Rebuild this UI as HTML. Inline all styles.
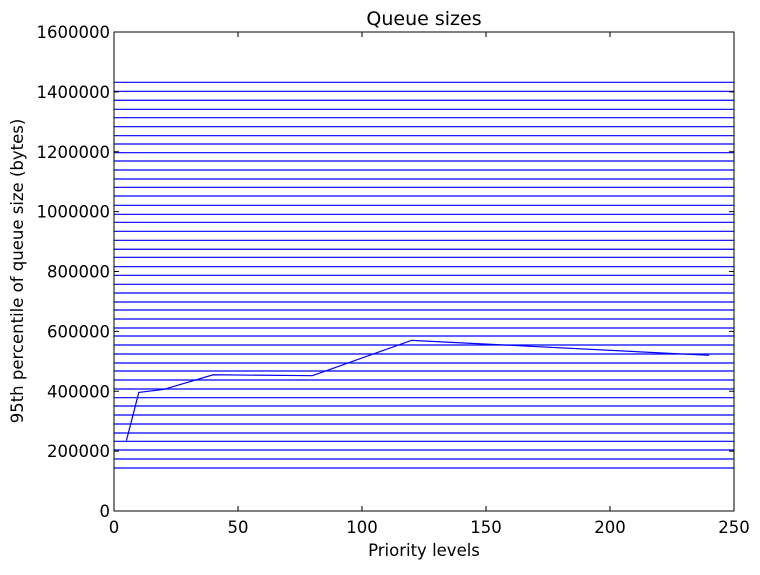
<!DOCTYPE html>
<html><head><meta charset="utf-8"><style>
body{margin:0;background:#fff;}
svg text{font-family:"DejaVu Sans","Liberation Sans",sans-serif;fill:#000;}
</style></head><body>
<svg id="chart" width="760" height="570" xmlns="http://www.w3.org/2000/svg">
<rect width="760" height="570" fill="#fff"/>
<g id="hlines"></g>
<g id="series"></g>
<rect x="114" y="32" width="620" height="479" fill="none" stroke="#000" stroke-width="1"/>
<g id="xticks"></g>
<g id="yticks"></g>
<text x="424" y="25" font-size="19" text-anchor="middle">Queue sizes</text>
<text x="424" y="556" font-size="16.5" text-anchor="middle">Priority levels</text>
<text x="0" y="0" font-size="16.5" text-anchor="middle" transform="translate(23,271) rotate(-90)">95th percentile of queue size (bytes)</text>
</svg>
<script>
const thresholdValues=[143600,173700,203800,232800,260500,290600,320700,350700,378500,407500,437600,467600,494400,524400,554500,584600,611300,641300,671400,698100,728200,757200,787300,816000,847400,874200,904200,934300,964300,991000,1021100,1052200,1081200,1109000,1139000,1169100,1196800,1225900,1253600,1283700,1313700,1341800,1371900,1401900,1432000];
const priorityLevels=[5,10,20,40,80,120,240];
const queueSizes=[235000,396000,406000,455000,452000,570000,520000];
const xTickLabels=[0,50,100,150,200,250];
const yTickLabels=[0,200000,400000,600000,800000,1000000,1200000,1400000,1600000];
const NS="http://www.w3.org/2000/svg";
const X0=114,X1=734,Y0=511,Y1=32;
function xs(v){return X0+(v-0)/(250-0)*(X1-X0);}
function ys(v){return Y0-(v-0)/(1600000-0)*(Y0-Y1);}
function mk(tag,attrs,parent){const e=document.createElementNS(NS,tag);for(const k in attrs)e.setAttribute(k,attrs[k]);parent.appendChild(e);return e;}
const hl=document.getElementById('hlines');
thresholdValues.forEach(v=>{const y=ys(v);
 const l=mk('line',{x1:X0,x2:X1,y1:y,y2:y,stroke:'#0000ff','stroke-width':1.2},hl);
 
 });
const s=document.getElementById('series');
const p=mk('polyline',{points:priorityLevels.map((x,i)=>xs(x)+','+ys(queueSizes[i])).join(' '),fill:'none',stroke:'#0000ff','stroke-width':1.2},s);


const xt=document.getElementById('xticks');
xTickLabels.forEach(v=>{const x=xs(v);
 mk('line',{x1:x,x2:x,y1:Y0,y2:Y0-5,stroke:'#000'},xt);
 mk('line',{x1:x,x2:x,y1:Y1,y2:Y1+5,stroke:'#000'},xt);
 const t=mk('text',{x:x,y:Y0+22,'font-size':16.5,'text-anchor':'middle'},xt);t.textContent=v;
 
 });
const yt=document.getElementById('yticks');
yTickLabels.forEach(v=>{const y=ys(v);
 mk('line',{x1:X0,x2:X0+5,y1:y,y2:y,stroke:'#000'},yt);
 mk('line',{x1:X1,x2:X1-5,y1:y,y2:y,stroke:'#000'},yt);
 const t=mk('text',{x:X0-4,y:y+6,'font-size':16.5,'text-anchor':'end'},yt);t.textContent=v;
 
 });
</script>
</body></html>
